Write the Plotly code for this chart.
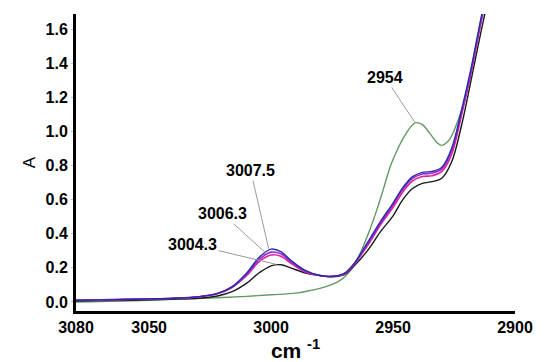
import plotly.graph_objects as go

# Wavenumber grid (cm-1) for the four near-identical spectra
wn = [3080, 3070, 3060, 3050, 3040, 3030, 3022, 3016, 3010, 3005, 3000, 2996, 2992,
      2986, 2980, 2975, 2970, 2966, 2960, 2955, 2950, 2946, 2942, 2938, 2934, 2930,
      2926, 2922, 2918, 2914, 2911]

a_blue = [0.010, 0.012, 0.015, 0.018, 0.022, 0.030, 0.050, 0.090, 0.170, 0.260, 0.310,
          0.295, 0.245, 0.185, 0.155, 0.150, 0.168, 0.225, 0.360, 0.475, 0.580, 0.670,
          0.735, 0.760, 0.765, 0.790, 0.900, 1.120, 1.370, 1.660, 1.850]
a_purple = [0.010, 0.012, 0.015, 0.018, 0.022, 0.030, 0.049, 0.087, 0.162, 0.248, 0.292,
            0.282, 0.237, 0.180, 0.155, 0.150, 0.166, 0.222, 0.350, 0.465, 0.570, 0.660,
            0.725, 0.750, 0.755, 0.780, 0.885, 1.105, 1.355, 1.645, 1.840]
a_magenta = [0.010, 0.012, 0.015, 0.018, 0.022, 0.030, 0.048, 0.085, 0.155, 0.235, 0.275,
             0.268, 0.228, 0.176, 0.155, 0.150, 0.164, 0.220, 0.340, 0.455, 0.555, 0.645,
             0.710, 0.735, 0.740, 0.765, 0.865, 1.090, 1.345, 1.635, 1.830]
a_black = [0.006, 0.008, 0.010, 0.013, 0.017, 0.022, 0.035, 0.060, 0.110, 0.170, 0.212,
           0.218, 0.200, 0.170, 0.155, 0.148, 0.160, 0.210, 0.310, 0.415, 0.505, 0.600,
           0.665, 0.695, 0.705, 0.725, 0.820, 1.030, 1.300, 1.580, 1.780]

# Green spectrum has its own grid
wn_green = [3080, 3070, 3060, 3050, 3040, 3030, 3020, 3010, 3000, 2990, 2985, 2980,
            2975, 2972, 2969, 2966, 2963, 2960, 2957, 2954, 2951, 2948, 2945, 2941, 2938,
            2935, 2932, 2930, 2927, 2924, 2920, 2916, 2911]
a_green = [0.000, 0.003, 0.006, 0.010, 0.015, 0.020, 0.026, 0.033, 0.042, 0.052, 0.064,
           0.080, 0.103, 0.124, 0.160, 0.218, 0.300, 0.405, 0.525, 0.660, 0.800, 0.900,
           0.980, 1.050, 1.040, 0.990, 0.935, 0.918, 0.950, 1.040, 1.220, 1.500, 1.860]

# Peak labels: text, anchor wavenumber, anchor absorbance, text offset (px)
peak_text = ["2954", "3007.5", "3006.3", "3004.3"]
peak_x = [2941, 3001.0, 3001.8, 2997.8]
peak_y = [1.052, 0.312, 0.282, 0.220]
off_x = [-30, -18, -44, -84]
off_y = [-45, -78, -40, -20]

x_ticks = [3080, 3050, 3000, 2950, 2900]
y_ticks = [0.0, 0.2, 0.4, 0.6, 0.8, 1.0, 1.2, 1.4, 1.6]

fig = go.Figure()
series = [
    (wn_green, a_green, "#5f9a62", 1.4),
    (wn, a_black, "#1a1a1a", 1.4),
    (wn, a_magenta, "#e0209a", 1.6),
    (wn, a_purple, "#9a2ad8", 1.6),
    (wn, a_blue, "#2b2ba6", 1.4),
]
for xs, ys, col, w in series:
    fig.add_trace(go.Scatter(x=xs, y=ys, mode="lines",
                             line=dict(color=col, width=w, shape="spline", smoothing=1.0),
                             showlegend=False, hoverinfo="skip"))

for t, px_, py_, ox, oy in zip(peak_text, peak_x, peak_y, off_x, off_y):
    fig.add_annotation(x=px_, y=py_, text=f"<b>{t}</b>", showarrow=True, arrowhead=0,
                       arrowwidth=1, arrowcolor="#9a9a9a", ax=ox, ay=oy,
                       font=dict(family="Arial, Liberation Sans", size=16, color="#000"),
                       standoff=0, startstandoff=0)

fig.update_layout(
    width=549, height=362,
    margin=dict(l=68, r=42, t=6, b=59),
    paper_bgcolor="white", plot_bgcolor="white",
    font=dict(family="Arial, Liberation Sans", color="#000"),
)
fig.update_xaxes(
    range=[3080, 2900], tickvals=x_ticks, ticktext=[f"<b>{v}</b>" for v in x_ticks],
    showgrid=False, zeroline=False, showline=True, linecolor="#000", linewidth=3,
    ticks="", tickfont=dict(size=16, color="#000"),
    title=dict(text="<b>cm <sup>-1</sup></b>", font=dict(size=21, color="#000"), standoff=6),
)
fig.update_yaxes(
    range=[-0.053, 1.688], tickvals=y_ticks, ticktext=[f"<b>{v:.1f}</b>" for v in y_ticks],
    showgrid=False, zeroline=False, showline=True, linecolor="#000", linewidth=3,
    ticks="outside", ticklen=2, tickcolor="#bbb",
    tickfont=dict(size=16, color="#000"),
    title=dict(text="A", font=dict(size=17, color="#000"), standoff=6),
)
fig.write_html("out.html")
